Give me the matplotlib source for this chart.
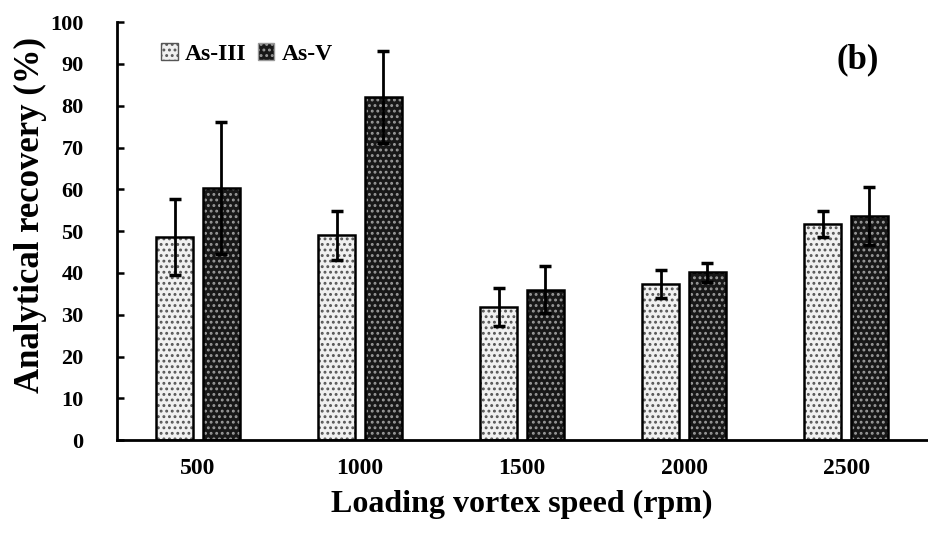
import matplotlib
matplotlib.use("Agg")
import matplotlib.pyplot as plt
import numpy as np
from matplotlib.patches import Patch

categories = ["500", "1000", "1500", "2000", "2500"]
as3_values = [48.5, 49.0, 31.9, 37.4, 51.7]
as3_errors = [9.1, 5.8, 4.5, 3.3, 3.2]
as5_values = [60.3, 82.1, 36.0, 40.1, 53.6]
as5_errors = [15.7, 11.0, 5.6, 2.2, 7.0]
series_names = ["As-III", "As-V"]

plt.rcParams['font.family'] = ['Liberation Serif', 'DejaVu Serif']
plt.rcParams['font.weight'] = 'bold'
plt.rcParams['hatch.linewidth'] = 1.3

fig = plt.figure(figsize=(9.29, 5.4), dpi=100)
ax = fig.add_axes([0.126, 0.185, 0.872, 0.774])

x = np.arange(len(categories))
w = 0.228
off = 0.144

styles = [
    dict(face="#f0f0f0", hatchc="#555555"),
    dict(face="#181818", hatchc="#9a9a9a"),
]
for vals, errs, sgn, st in [(as3_values, as3_errors, -1, styles[0]),
                            (as5_values, as5_errors, 1, styles[1])]:
    pos = x + sgn * off
    ax.bar(pos, vals, width=w, color=st["face"], edgecolor=st["hatchc"],
           hatch="...", linewidth=0, zorder=2)
    ax.bar(pos, vals, width=w, fill=False, edgecolor="black", linewidth=1.8, zorder=3)
    ax.errorbar(pos, vals, yerr=errs, fmt="none", ecolor="black", elinewidth=2,
                capsize=4.5, capthick=2.5, zorder=4)

ax.set_xlim(-0.5, len(categories) - 0.5)
ax.set_ylim(0, 100)
ax.set_yticks(range(0, 101, 10))
ax.set_xticks(x)
ax.set_xticklabels(categories)
ax.tick_params(axis='y', direction='in', length=5, width=1.8, labelsize=16, pad=24)
ax.tick_params(axis='x', length=0, labelsize=17, pad=13)
for lab in ax.get_xticklabels() + ax.get_yticklabels():
    lab.set_fontweight('bold')

for s in ["top", "right"]:
    ax.spines[s].set_visible(False)
for s in ["left", "bottom"]:
    ax.spines[s].set_linewidth(2)

ax.set_xlabel("Loading vortex speed (rpm)", fontsize=23, fontweight='bold', labelpad=8)
ax.set_ylabel("Analytical recovery (%)", fontsize=25, fontweight='bold')
ax.yaxis.set_label_coords(-0.087, 0.538)

ax.text(0.914, 0.909, "(b)", transform=ax.transAxes, fontsize=25, fontweight='bold',
        ha='center', va='center')

handles = [Patch(facecolor=styles[0]["face"], edgecolor=styles[0]["hatchc"], hatch="..."),
           Patch(facecolor=styles[1]["face"], edgecolor=styles[1]["hatchc"], hatch="...")]
leg = ax.legend(handles, series_names, loc='upper left', bbox_to_anchor=(0.028, 1.0),
                ncol=2, frameon=False, handlelength=0.7, handleheight=0.7,
                handletextpad=0.3, columnspacing=0.5, prop={'weight': 'bold', 'size': 17})

fig.savefig("out.png", dpi=100)
